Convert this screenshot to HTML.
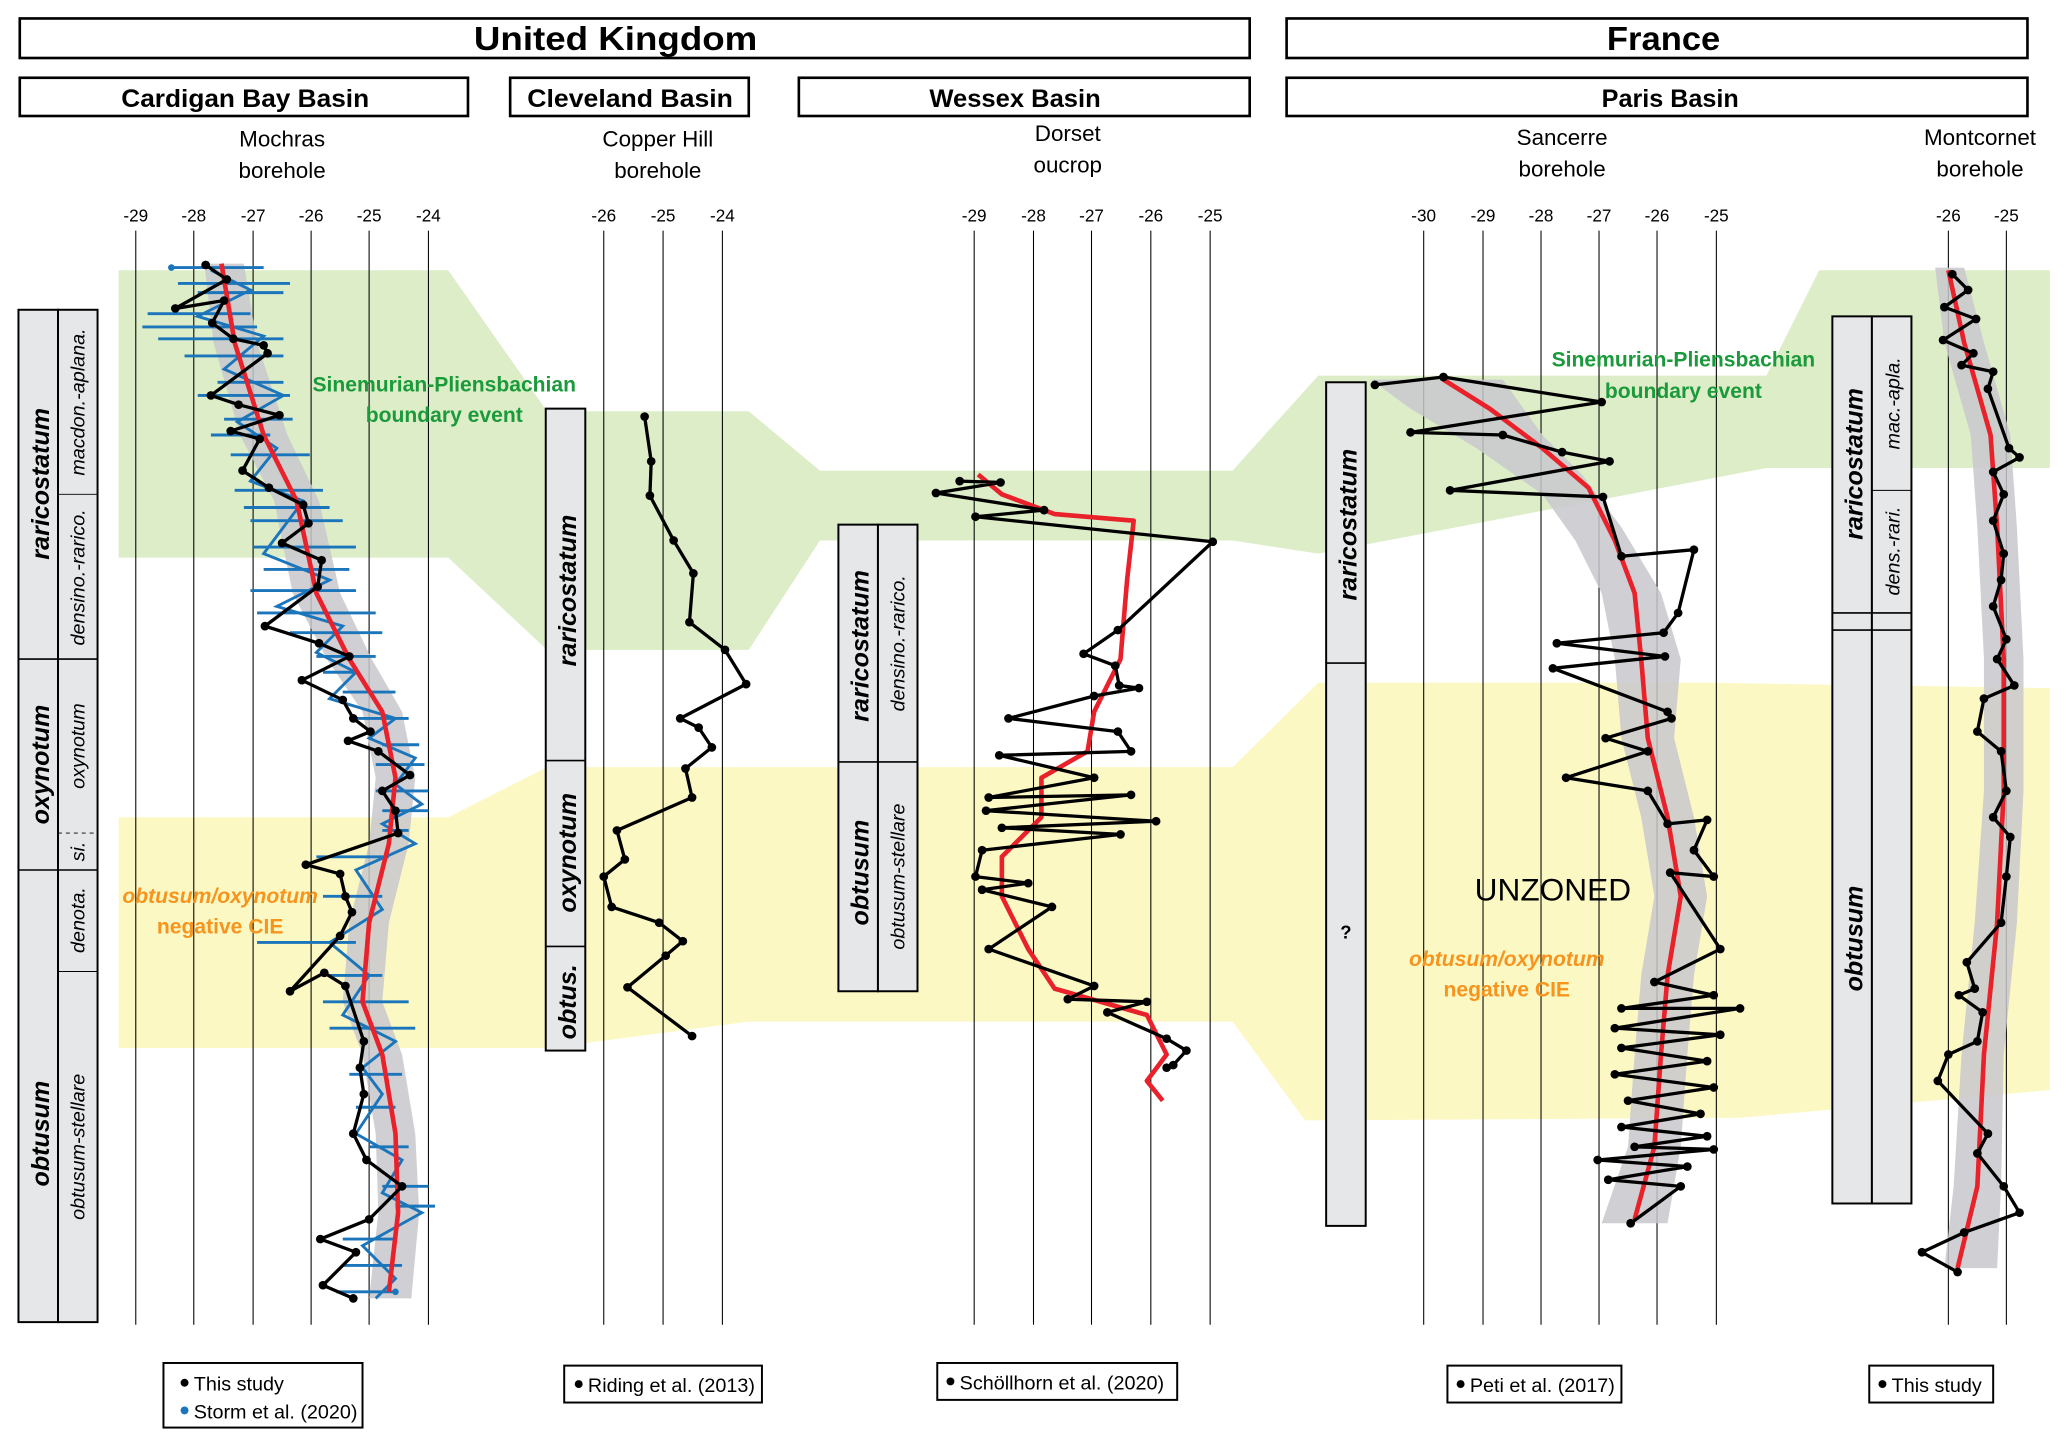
<!DOCTYPE html>
<html><head><meta charset="utf-8"><style>
html,body{margin:0;padding:0;background:#fff}
svg{display:block}
text{font-family:"Liberation Sans",sans-serif}
</style></head><body>
<svg width="2067" height="1448" viewBox="0 0 1568 1098.5" preserveAspectRatio="none" xmlns="http://www.w3.org/2000/svg">
<defs>
<marker id="d" viewBox="-4 -4 8 8" markerWidth="8" markerHeight="8" markerUnits="userSpaceOnUse" refX="0" refY="0"><circle r="3.3" fill="#000"/></marker>
<marker id="b" viewBox="-3 -3 6 6" markerWidth="6" markerHeight="6" markerUnits="userSpaceOnUse" refX="0" refY="0"><circle r="2.5" fill="#1b75bb"/></marker>
</defs>
<!-- bands -->
<polygon fill="#dcedc8" points="90,205 340,205 415,312 568,312 622,357 935,357 1000,285 1340,285 1380,205 1555,205 1555,355 1340,355 1000,420 935,410 622,410 568,493 415,493 340,423 90,423"/>
<polygon fill="#fbf8c4" points="90,620 340,620 415,582 935,582 1000,518 1300,518 1555,522 1555,827 1320,848 990,850 935,775 568,775 415,795 340,795 90,795"/>
<!-- headers -->
<g fill="#fff" stroke="#000" stroke-width="2">
<rect x="15" y="14" width="933" height="30"/><rect x="976" y="14" width="562" height="30"/>
<rect x="15" y="59" width="340" height="29"/><rect x="387" y="59" width="181" height="29"/>
<rect x="606" y="59" width="342" height="29"/><rect x="976" y="59" width="562" height="29"/>
</g>
<g font-weight="bold" text-anchor="middle">
<text x="467" y="38" font-size="25" textLength="215" lengthAdjust="spacingAndGlyphs">United Kingdom</text><text x="1262" y="38" font-size="25" textLength="86" lengthAdjust="spacingAndGlyphs">France</text>
<text x="186" y="81" font-size="19" textLength="188" lengthAdjust="spacingAndGlyphs">Cardigan Bay Basin</text><text x="478" y="81" font-size="19" textLength="156" lengthAdjust="spacingAndGlyphs">Cleveland Basin</text>
<text x="770" y="81" font-size="19" textLength="130" lengthAdjust="spacingAndGlyphs">Wessex Basin</text><text x="1267" y="81" font-size="19" textLength="104" lengthAdjust="spacingAndGlyphs">Paris Basin</text>
</g>
<g font-size="17" text-anchor="middle">
<text x="214" y="111">Mochras</text><text x="214" y="135">borehole</text>
<text x="499" y="111">Copper Hill</text><text x="499" y="135">borehole</text>
<text x="810" y="107">Dorset</text><text x="810" y="131">oucrop</text>
<text x="1185" y="110">Sancerre</text><text x="1185" y="134">borehole</text>
<text x="1502" y="110">Montcornet</text><text x="1502" y="134">borehole</text>
</g>
<!-- grid -->
<g stroke="#000" stroke-width="0.8">
<path d="M103 175V1005M147 175V1005M192 175V1005M236 175V1005M280 175V1005M325 175V1005M458 175V1005M503 175V1005M548 175V1005M739 175V1005M784 175V1005M828 175V1005M873 175V1005M918 175V1005M1080 175V1005M1125 175V1005M1169 175V1005M1213 175V1005M1257 175V1005M1302 175V1005M1478 175V1005M1522 175V1005"/>
</g>
<g font-size="13" text-anchor="middle">
<text x="103" y="168">-29</text><text x="147" y="168">-28</text><text x="192" y="168">-27</text><text x="236" y="168">-26</text><text x="280" y="168">-25</text><text x="325" y="168">-24</text>
<text x="458" y="168">-26</text><text x="503" y="168">-25</text><text x="548" y="168">-24</text>
<text x="739" y="168">-29</text><text x="784" y="168">-28</text><text x="828" y="168">-27</text><text x="873" y="168">-26</text><text x="918" y="168">-25</text>
<text x="1080" y="168">-30</text><text x="1125" y="168">-29</text><text x="1169" y="168">-28</text><text x="1213" y="168">-27</text><text x="1257" y="168">-26</text><text x="1302" y="168">-25</text>
<text x="1478" y="168">-26</text><text x="1522" y="168">-25</text>
</g>
<!-- zone columns -->
<g fill="#e6e7e8" stroke="#000" stroke-width="1.5">
<rect x="14" y="235" width="30" height="768"/><rect x="44" y="235" width="30" height="768"/>
<rect x="414" y="310" width="30" height="487"/>
<rect x="636" y="398" width="30" height="354"/><rect x="666" y="398" width="30" height="354"/>
<rect x="1006" y="290" width="30" height="640"/>
<rect x="1390" y="240" width="30" height="673"/><rect x="1420" y="240" width="30" height="673"/>
</g>
<g stroke="#000" stroke-width="1.2">
<path d="M14 500H74M14 660H74M414 577H444M414 718H444M636 578H696M1006 503H1036M1390 465H1450M1390 478H1450"/>
<path d="M44 375H74M44 737H74M1420 372H1450" stroke-width="0.7"/>
<path d="M44 632H74" stroke-dasharray="3 3" stroke-width="0.7"/>
</g>
<g font-weight="bold" font-style="italic" font-size="19" text-anchor="middle">
<text transform="translate(37,367) rotate(-90)">raricostatum</text>
<text transform="translate(37,580) rotate(-90)">oxynotum</text>
<text transform="translate(37,860) rotate(-90)">obtusum</text>
<text transform="translate(437,448) rotate(-90)">raricostatum</text>
<text transform="translate(437,647) rotate(-90)">oxynotum</text>
<text transform="translate(437,760) rotate(-90)">obtus.</text>
<text transform="translate(659,490) rotate(-90)">raricostatum</text>
<text transform="translate(659,662) rotate(-90)">obtusum</text>
<text transform="translate(1029,398) rotate(-90)">raricostatum</text>
<text transform="translate(1413,352) rotate(-90)">raricostatum</text>
<text transform="translate(1413,712) rotate(-90)">obtusum</text>
</g>
<text x="1021" y="712" font-size="14" font-weight="bold" text-anchor="middle">?</text>
<g font-style="italic" font-size="15" text-anchor="middle">
<text transform="translate(64,305) rotate(-90)">macdon.-aplana.</text>
<text transform="translate(64,438) rotate(-90)">densino.-rarico.</text>
<text transform="translate(64,566) rotate(-90)">oxynotum</text>
<text transform="translate(64,646) rotate(-90)">si.</text>
<text transform="translate(64,698) rotate(-90)">denota.</text>
<text transform="translate(64,870) rotate(-90)">obtusum-stellare</text>
<text transform="translate(686,488) rotate(-90)">densino.-rarico.</text>
<text transform="translate(686,665) rotate(-90)">obtusum-stellare</text>
<text transform="translate(1441,306) rotate(-90)">mac.-apla.</text>
<text transform="translate(1441,418) rotate(-90)">dens.-rari.</text>
</g>
<!-- envelopes -->
<g fill="#c8c8cc" opacity="0.85">
<polygon points="155,200 185,200 195,260 218,330 242,380 258,450 282,500 305,540 315,590 310,640 295,700 290,760 305,800 315,860 318,920 312,985 280,985 287,920 285,860 275,800 260,760 265,700 280,640 285,590 275,540 248,500 222,450 208,380 182,330 162,260"/>
<polygon points="1040,288 1140,288 1170,330 1200,360 1230,400 1260,450 1275,500 1270,560 1285,620 1295,680 1285,740 1280,800 1275,870 1265,928 1215,928 1235,870 1240,800 1245,740 1255,680 1245,620 1230,560 1225,500 1215,450 1195,410 1170,375 1120,340 1070,310"/>
<polygon points="1468,203 1490,203 1505,260 1525,330 1530,400 1535,500 1535,600 1530,700 1520,800 1518,900 1515,962 1475,962 1482,900 1488,800 1498,700 1505,600 1505,500 1500,400 1495,330 1475,260"/>
</g>
<!-- blue Storm -->
<g stroke="#1b75bb" stroke-width="2.2" fill="none" marker-start="url(#b)" marker-end="url(#b)">
<path d="M130 203H200M135 215H220M150 222H215M112 238H190M108 248H195M120 257H215M140 270H215M165 290H215M150 300H220M170 318H222M160 330H205M175 345H235M178 372H245M185 385H250M190 395H260M192 415H270M200 432H265M190 448H270M195 465H285M220 480H290M240 498H285M245 510H270M260 525H300M270 545H310M290 565H318M285 580H322M285 600H325M290 615H325M290 630H310M240 650H295M245 680H290M195 715H270M250 740H290M245 760H310M250 780H315M265 815H305M270 840H300M280 870H310M290 900H325M300 915H330M260 940H300M260 960H305M255 980H300"/>
</g>
<polyline fill="none" stroke="#1b75bb" stroke-width="2.2" points="160,205 190,220 150,240 200,255 170,280 215,300 180,320 210,340 190,365 230,380 200,420 250,440 210,460 260,475 240,495 270,510 250,530 300,545 280,560 315,575 300,595 320,610 290,625 315,640 270,660 290,690 250,715 280,740 260,770 300,790 275,810 290,830 270,860 305,880 290,905 320,920 275,945 300,970 285,985"/>
<!-- red curves -->
<g fill="none" stroke="#e8212b" stroke-width="3.5" stroke-linejoin="round">
<polyline points="168,200 178,260 200,330 225,380 240,450 265,500 290,540 300,590 295,640 280,700 275,760 290,800 300,860 302,920 295,980"/>
<polyline points="742,360 760,375 800,390 860,395 855,440 850,500 830,540 825,570 790,590 790,620 760,650 760,680 780,720 800,750 870,770 885,800 870,820 882,835"/>
<polyline points="1095,288 1130,310 1170,340 1205,370 1225,410 1240,450 1245,500 1250,560 1265,620 1275,680 1265,740 1260,800 1255,870 1240,925"/>
<polyline points="1478,205 1490,260 1510,330 1515,400 1520,500 1520,600 1515,700 1505,800 1500,900 1485,962"/>
</g>
<!-- black data -->
<g fill="none" stroke="#000" stroke-width="2.5" stroke-linejoin="round" marker-start="url(#d)" marker-mid="url(#d)" marker-end="url(#d)">
<polyline points="156,201 172,212 133,234 170,228 161,245 177,257 200,262 203,268 160,300 181,307 212,315 175,327 197,333 184,357 204,370 230,383 234,397 214,412 244,425 241,445 201,475 242,488 265,498 229,516 260,531 268,545 281,555 264,562 287,570 311,588 290,600 300,615 302,632 232,656 258,663 262,680 267,692 258,710 220,752 246,738 262,748 276,790 273,810 276,830 268,860 278,880 305,900 280,925 243,940 270,950 245,975 268,985"/>
<polyline points="489,316 494,350 493,376 511,410 526,435 523,472 550,493 566,519 516,545 530,552 540,567 520,583 525,605 468,630 474,652 458,665 464,688 500,700 518,714 505,725 476,749 525,786"/>
<polyline points="728,365 759,366 710,374 792,387 740,392 920,411 848,478 822,496 846,505 849,520 864,522 830,528 765,545 848,555 858,570 758,573 830,590 750,605 858,603 748,615 877,623 760,628 850,633 745,645 740,665 780,670 745,675 798,688 750,720 830,748 810,758 870,760 840,768 885,788 900,797 890,808 885,810"/>
<polyline points="1043,292 1095,286 1215,305 1070,328 1140,330 1185,343 1221,350 1100,372 1216,377 1230,422 1285,417 1273,465 1262,480 1181,488 1263,498 1178,507 1265,540 1268,545 1218,560 1250,570 1188,590 1250,600 1265,625 1295,622 1285,645 1300,665 1267,662 1305,720 1255,745 1300,755 1230,765 1320,765 1225,780 1305,785 1230,795 1295,805 1225,815 1300,825 1235,835 1290,845 1230,855 1295,862 1240,870 1300,872 1212,880 1280,885 1220,895 1275,900 1237,928"/>
<polyline points="1481,208 1493,220 1475,233 1499,242 1474,258 1497,268 1488,277 1512,282 1508,295 1524,340 1532,347 1512,358 1520,375 1512,395 1520,420 1518,440 1512,460 1522,485 1515,500 1528,520 1505,530 1500,555 1518,570 1522,600 1512,620 1525,635 1522,665 1518,700 1492,730 1498,750 1486,755 1504,768 1500,790 1478,800 1470,820 1508,860 1500,875 1520,900 1532,920 1490,935 1458,950 1485,965"/>
</g>
<!-- labels -->
<g fill="#1a9a3a" font-weight="bold" font-size="16" text-anchor="middle">
<text x="337" y="297">Sinemurian-Pliensbachian</text><text x="337" y="320">boundary event</text>
<text x="1277" y="278">Sinemurian-Pliensbachian</text><text x="1277" y="302">boundary event</text>
</g>
<g fill="#f7941d" font-weight="bold" font-size="16" text-anchor="middle">
<text x="167" y="685" font-style="italic">obtusum/oxynotum</text><text x="167" y="708">negative CIE</text>
<text x="1143" y="733" font-style="italic">obtusum/oxynotum</text><text x="1143" y="756">negative CIE</text>
</g>
<text x="1178" y="683" font-size="24" text-anchor="middle">UNZONED</text>
<!-- legends -->
<g fill="#fff" stroke="#000" stroke-width="1.5">
<rect x="124" y="1034" width="151" height="49"/><rect x="428" y="1036" width="150" height="28"/>
<rect x="711" y="1034" width="182" height="28"/><rect x="1098" y="1036" width="132" height="28"/>
<rect x="1418" y="1036" width="94" height="28"/>
</g>
<g font-size="15">
<circle cx="140" cy="1049" r="3"/><text x="147" y="1055">This study</text>
<circle cx="140" cy="1070" r="3" fill="#1b75bb"/><text x="147" y="1076">Storm et al. (2020)</text>
<circle cx="439" cy="1050" r="3"/><text x="446" y="1056">Riding et al. (2013)</text>
<circle cx="721" cy="1048" r="3"/><text x="728" y="1054">Schöllhorn et al. (2020)</text>
<circle cx="1108" cy="1050" r="3"/><text x="1115" y="1056">Peti et al. (2017)</text>
<circle cx="1428" cy="1050" r="3"/><text x="1435" y="1056">This study</text>
</g>
</svg>
</body></html>
